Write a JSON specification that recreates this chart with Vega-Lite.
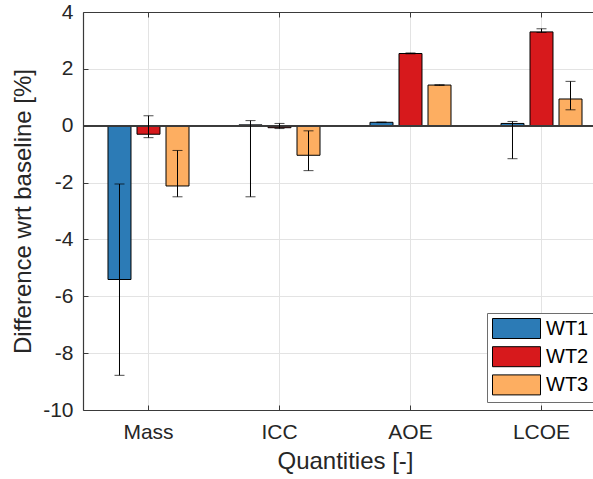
{
  "$schema": "https://vega.github.io/schema/vega-lite/v6.json",
  "width": 510,
  "height": 398,
  "autosize": {"type": "none"},
  "padding": {"left": 83, "top": 12, "right": 0, "bottom": 69},
  "background": "white",
  "config": {
    "view": {"stroke": null},
    "font": "Liberation Sans",
    "axis": {
      "labelFont": "Liberation Sans",
      "titleFont": "Liberation Sans",
      "labelFontSize": 21,
      "titleFontSize": 24,
      "titleFontWeight": "normal",
      "labelColor": "#262626",
      "titleColor": "#262626",
      "domainColor": "#3a3a3a",
      "tickColor": "#3a3a3a",
      "gridColor": "#e3e3e3",
      "gridWidth": 1,
      "domainWidth": 1.2,
      "tickWidth": 1,
      "tickSize": -5
    }
  },
  "data": {
    "values": [
      {"q": "Mass", "s": "WT1", "v": -5.41, "lo": -8.78, "hi": -2.05},
      {"q": "Mass", "s": "WT2", "v": -0.30, "lo": -0.42, "hi": 0.35},
      {"q": "Mass", "s": "WT3", "v": -2.12, "lo": -2.50, "hi": -0.87},
      {"q": "ICC", "s": "WT1", "v": 0.03, "lo": -2.50, "hi": 0.18},
      {"q": "ICC", "s": "WT2", "v": -0.07, "lo": -0.10, "hi": 0.08},
      {"q": "ICC", "s": "WT3", "v": -1.04, "lo": -1.58, "hi": -0.18},
      {"q": "AOE", "s": "WT1", "v": 0.12, "lo": 0.11, "hi": 0.13},
      {"q": "AOE", "s": "WT2", "v": 2.54, "lo": 2.53, "hi": 2.56},
      {"q": "AOE", "s": "WT3", "v": 1.43, "lo": 1.42, "hi": 1.44},
      {"q": "LCOE", "s": "WT1", "v": 0.08, "lo": -1.16, "hi": 0.15},
      {"q": "LCOE", "s": "WT2", "v": 3.30, "lo": 3.28, "hi": 3.41},
      {"q": "LCOE", "s": "WT3", "v": 0.94, "lo": 0.56, "hi": 1.56}
    ]
  },
  "resolve": {"axis": {"x": "independent"}},
  "layer": [
    {
      "mark": {"type": "bar", "stroke": "#000000", "strokeWidth": 1, "clip": true},
      "encoding": {
        "x": {
          "field": "q", "type": "nominal",
          "scale": {"domain": ["Mass", "ICC", "AOE", "LCOE"], "range": [0, 524], "paddingInner": 0, "paddingOuter": 0},
          "axis": {"title": "Quantities [-]", "labelAngle": 0, "bandPosition": 0.5, "grid": true, "labelPadding": 16, "titlePadding": 7}
        },
        "xOffset": {"field": "s", "type": "nominal", "scale": {"paddingInner": 0.207, "paddingOuter": 0.862}},
        "y": {
          "field": "v", "type": "quantitative",
          "scale": {"domain": [-10, 4], "nice": false, "zero": false},
          "axis": {
            "title": "Difference wrt baseline [%]",
            "values": [-10, -9, -8, -7, -6, -5, -4, -3, -2, -1, 0, 1, 2, 3, 4],
            "labelExpr": "datum.value % 2 === 0 ? toString(datum.value) : ''",
            "grid": true,
            "labelPadding": 15,
            "titlePadding": 7
          }
        },
        "color": {
          "field": "s", "type": "nominal",
          "scale": {"domain": ["WT1", "WT2", "WT3"], "range": ["#2c7bb6", "#d7191c", "#fdae61"]},
          "legend": {
            "title": null,
            "orient": "none",
            "legendX": 404,
            "legendY": 301,
            "direction": "vertical",
            "symbolType": "M-1,-1L3.8,-1L3.8,1L-1,1Z",
            "symbolSize": 400,
            "symbolStrokeColor": "#000000",
            "symbolStrokeWidth": 1,
            "symbolOpacity": 1,
            "labelFont": "Liberation Sans",
            "labelFontSize": 20,
            "labelColor": "#000000",
            "labelOffset": 33,
            "rowPadding": 3.2,
            "padding": 5,
            "fillColor": "white",
            "strokeColor": "#6e6e6e"
          }
        }
      }
    },
    {
      "mark": {"type": "rule", "color": "#3a3a3a", "strokeWidth": 1.2},
      "encoding": {"y": {"datum": 0, "type": "quantitative"}}
    },
    {
      "mark": {"type": "rule", "color": "#000000", "strokeWidth": 1},
      "encoding": {
        "x": {"field": "q", "type": "nominal", "axis": null},
        "xOffset": {"field": "s", "type": "nominal"},
        "y": {"field": "lo", "type": "quantitative"},
        "y2": {"field": "hi"}
      }
    },
    {
      "mark": {"type": "tick", "color": "#000000", "thickness": 1, "size": 10, "orient": "horizontal"},
      "encoding": {
        "x": {"field": "q", "type": "nominal", "axis": null},
        "xOffset": {"field": "s", "type": "nominal"},
        "y": {"field": "lo", "type": "quantitative"}
      }
    },
    {
      "mark": {"type": "tick", "color": "#000000", "thickness": 1, "size": 10, "orient": "horizontal"},
      "encoding": {
        "x": {"field": "q", "type": "nominal", "axis": {"orient": "top", "labels": false, "title": null, "grid": false, "bandPosition": 0.5, "tickSize": -5}},
        "xOffset": {"field": "s", "type": "nominal"},
        "y": {"field": "hi", "type": "quantitative"}
      }
    }
  ]
}
